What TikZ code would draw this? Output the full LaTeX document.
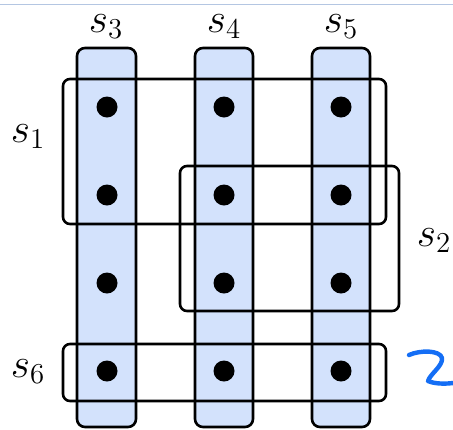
\documentclass[tikz,border=0pt]{standalone}
\definecolor{colfill}{RGB}{211,226,252}
\definecolor{topline}{RGB}{180,198,226}
\definecolor{penblue}{RGB}{20,110,245}
\tikzset{
  colbox/.style={draw=black, fill=colfill, line width=1.3pt, rounded corners=4pt},
  setbox/.style={draw=black, line width=1.3pt, rounded corners=3.5pt},
  dotnode/.style={circle, fill=black, inner sep=0pt, minimum size=10.5pt},
  lbl/.style={inner sep=0pt, anchor=base, font=\huge},
}
\begin{document}
\begin{tikzpicture}[x=0.5pt, y=-0.5pt]
\useasboundingbox (0,0) rectangle (453,429);
% top rule
\draw[topline, line width=0.8pt] (0,4.5) -- (453,4.5);
% columns
\draw[colbox] (77,48) rectangle (136,427);
\draw[colbox] (195,48) rectangle (253,427);
\draw[colbox] (312,48) rectangle (370,427);
% sets
\draw[setbox] (63,79) rectangle (386,224);
\draw[setbox] (180,166) rectangle (399,311);
\draw[setbox] (63,344) rectangle (386,401);
% dots
\foreach \c/\x in {a/107,b/224,c/341}{
  \foreach \r/\y in {1/107,2/195,3/283,4/371}{
    \node[dotnode] (d\c\r) at (\x,\y) {};
  }
}
% labels
\node[lbl] (s3) at (106,32) {$s_3$};
\node[lbl] (s4) at (224,32) {$s_4$};
\node[lbl] (s5) at (341,32) {$s_5$};
\node[lbl] (s1) at (28,142) {$s_1$};
\node[lbl] (s2) at (434,246) {$s_2$};
\node[lbl] (s6) at (28,377) {$s_6$};
% handwritten mark
\draw[penblue, line width=2.2pt, line cap=round, line join=round]
  (409,355) .. controls (420,350) and (440,350) .. (442,358)
  .. controls (443,366) and (430,374) .. (428,381)
  .. controls (435,384) and (445,384) .. (453,383);
\end{tikzpicture}
\end{document}
